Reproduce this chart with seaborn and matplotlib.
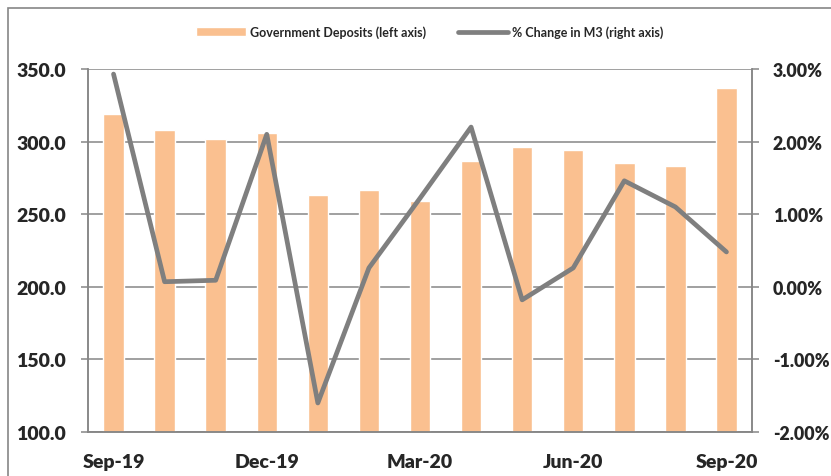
import numpy as np
import pandas as pd
import seaborn as sns
import matplotlib.pyplot as plt
from matplotlib.patches import Rectangle
from matplotlib.ticker import FuncFormatter, FixedLocator

months = ["Sep-19", "Oct-19", "Nov-19", "Dec-19", "Jan-20", "Feb-20", "Mar-20",
          "Apr-20", "May-20", "Jun-20", "Jul-20", "Aug-20", "Sep-20"]
gov_deposits = [319, 308, 302, 306, 263, 267, 259, 286.5, 296, 294.5, 285.5, 283.5, 337]
m3_change = [2.93, 0.07, 0.09, 2.10, -1.60, 0.26, 1.22, 2.20, -0.18, 0.26, 1.46, 1.10, 0.48]
shown_labels = ["Sep-19", "Dec-19", "Mar-20", "Jun-20", "Sep-20"]

df = pd.DataFrame({"month": months, "deposits": gov_deposits, "m3": m3_change})
df["pos"] = np.arange(len(df))

sns.set_style("white")
plt.rcParams['font.family'] = ['Lato', 'DejaVu Sans']

grey = "#868686"
bar_col = "#FAC090"
line_col = "#7F7F7F"
tick_size = 14

fig = plt.figure(figsize=(8.31, 4.77), dpi=100)
ax = fig.add_axes([88/831, 1-433/477, (752-88)/831, (433-70)/477])

sns.barplot(data=df, x="month", y="deposits", color=bar_col, width=0.4,
            saturation=1, ax=ax, label="Government Deposits (left axis)")
ax.set_ylim(100, 350)
ax.set_xlim(-0.5, len(months) - 0.5)
ax.set_yticks([100, 150, 200, 250, 300, 350])
ax.yaxis.set_major_formatter(FuncFormatter(lambda v, p: f"{v:.1f}"))
ax.grid(axis="y", color=grey, linewidth=1.1)
ax.set_axisbelow(True)
ax.set_xlabel("")
ax.set_ylabel("")

# month labels under quarters, tick marks between bars
ax.set_xticks([months.index(m) for m in shown_labels])
ax.set_xticklabels(shown_labels)
ax.xaxis.set_minor_locator(FixedLocator([-0.5, 2.5, 5.5, 8.5, 11.5]))
ax.tick_params(axis="x", which="major", length=0, pad=15, labelsize=tick_size)
ax.tick_params(axis="x", which="minor", length=5, width=1.1, color=grey, direction="out")
ax.tick_params(axis="y", length=5, width=1.1, color=grey, pad=11, labelsize=tick_size, left=True)
for lab in ax.get_xticklabels() + ax.get_yticklabels():
    lab.set_fontweight("heavy")

ax2 = ax.twinx()
sns.lineplot(data=df, x="pos", y="m3", color=line_col, linewidth=3.4, ax=ax2,
             label="% Change in M3 (right axis)", legend=False)
ax2.set_ylim(-2, 3)
ax2.set_xlim(-0.5, len(months) - 0.5)
ax2.set_yticks([-2, -1, 0, 1, 2, 3])
ax2.yaxis.set_major_formatter(FuncFormatter(lambda v, p: f"{v:.2f}%"))
ax2.set_ylabel("")
ax2.set_xlabel("")
ax2.tick_params(axis="y", length=5, width=1.1, color=grey, pad=10, labelsize=12.8, right=True)
for lab in ax2.get_yticklabels():
    lab.set_fontweight("heavy")

for a in (ax, ax2):
    a.spines["top"].set_visible(False)
    for side in ["left", "right", "bottom"]:
        a.spines[side].set_color(grey)
        a.spines[side].set_linewidth(1.1)

h1, l1 = ax.get_legend_handles_labels()
h2, l2 = ax2.get_legend_handles_labels()
if ax.get_legend() is not None:
    ax.get_legend().remove()
fig.legend(h1 + h2, l1 + l2, loc="center", bbox_to_anchor=(0.517, 1-33/477), ncol=2,
           frameon=False, prop={"size": 9, "weight": "bold"}, handlelength=4.0,
           handleheight=0.7, columnspacing=2.6, handletextpad=0.3)

# outer chart frame
fig.patches.append(Rectangle((8/831, -0.05), 1.1, 1-9/477 + 0.05, transform=fig.transFigure,
                             fill=False, edgecolor=grey, linewidth=1.2))

fig.savefig("out.png", dpi=100)
